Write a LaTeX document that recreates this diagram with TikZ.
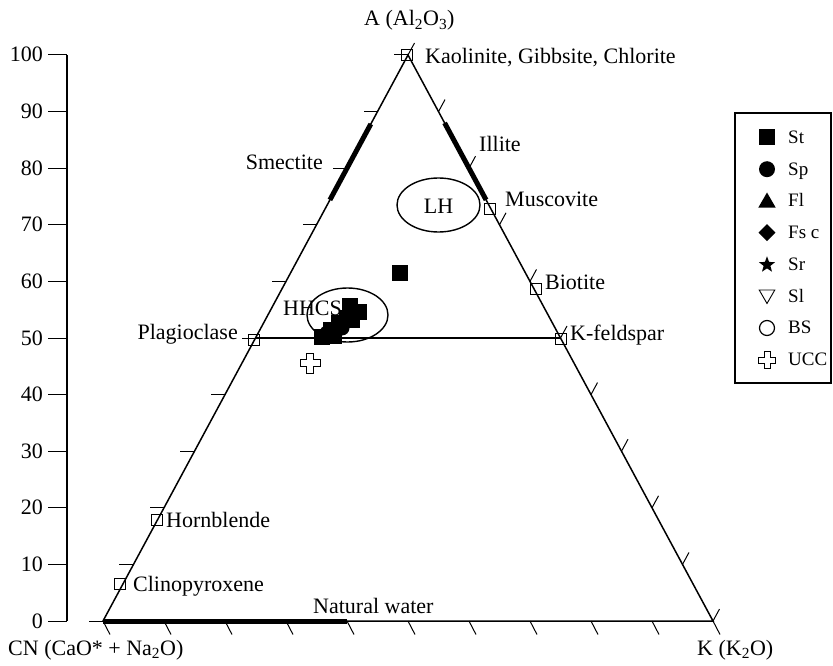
\documentclass[tikz,border=0pt]{standalone}
\usepackage{fontspec}
\setmainfont{Liberation Serif}
\usetikzlibrary{shapes.geometric,calc}
\begin{document}
\begin{tikzpicture}[x=1pt,y=-1pt,
  lbl/.style={font=\fontsize{22}{26}\selectfont, inner sep=0pt},
  leg/.style={font=\fontsize{19}{23}\selectfont, inner sep=0pt, anchor=base west},
  edge/.style={line width=1.5pt, black},
  tk/.style={line width=1pt},
  minsq/.style={draw, line width=0.9pt, minimum size=11pt, inner sep=0pt},
  fsq/.style={fill=black, minimum size=16pt, inner sep=0pt},
  fci/.style={circle, fill=black, minimum size=15pt, inner sep=0pt},
  thickseg/.style={line width=5pt, line cap=butt},
  ell/.style={draw, ellipse, line width=1.4pt, inner sep=0pt}]
\useasboundingbox (0,0) rectangle (833,666);
\coordinate (CN) at (103,621);
\coordinate (A) at (408,55);
\coordinate (K) at (713,621);
% y axis
\draw[edge] (67,55) coordinate (yt) -- (67,621) coordinate (yb);
\foreach \v in {0,10,...,100}{
  \pgfmathsetmacro{\yy}{621-5.66*\v}
  \draw[tk] (48,\yy) -- (67,\yy);
  \node[lbl, anchor=base east] (yl\v) at (43,\yy+7) {\v};
}
% triangle
\draw[edge] (CN) -- (A) -- (K) -- cycle;
% 50 line
\coordinate (p50) at ($(CN)!0.5!(A)$);
\coordinate (k50) at ($(K)!0.5!(A)$);
\draw[edge] (p50) -- (k50);
% ticks
\foreach \i in {0,...,10}{
  \draw[tk] ($(CN)!\i/10!(A)$) -- ++(-14,0);
  \draw[tk] ($(K)!\i/10!(A)$) -- ++(6.5,-12);
  \draw[tk] ($(CN)!\i/10!(K)$) -- ++(7,13.5);
}
% thick segments
\draw[thickseg] ($(CN)!0.744!(A)$) coordinate (sm1) -- ($(CN)!0.878!(A)$) coordinate (sm2);
\draw[thickseg] ($(A)!0.12!(K)$) coordinate (il1) -- ($(A)!0.256!(K)$) coordinate (il2);
\draw[thickseg] (CN) -- ($(CN)!0.4!(K)$) coordinate (nw);
% mineral squares
\node[minsq] (kao) at (407,55) {};
\node[minsq] (mus) at (490,209) {};
\node[minsq] (bio) at (536,289) {};
\node[minsq] (kfs) at (561,339) {};
\node[minsq] (pla) at (254,340) {};
\node[minsq] (hor) at (157,520) {};
\node[minsq] (cli) at (120,584) {};
% mineral labels
\node[lbl, anchor=base west] (tkao) at (425,64) {Kaolinite, Gibbsite, Chlorite};
\node[lbl, anchor=base west] (till) at (479,152) {Illite};
\node[lbl, anchor=base west] (tmus) at (505,207) {Muscovite};
\node[lbl, anchor=base west] (tbio) at (545,289) {Biotite};
\node[lbl, anchor=base west] (tkfs) at (570,340) {K-feldspar};
\node[lbl, anchor=base east] (tpla) at (238,339) {Plagioclase};
\node[lbl, anchor=base west] (thor) at (166,527) {Hornblende};
\node[lbl, anchor=base west] (tcli) at (133,591) {Clinopyroxene};
\node[lbl, anchor=base east] (tsme) at (323,170) {Smectite};
\node[lbl, anchor=base west] (tnw) at (313,613) {Natural water};
% apex labels
\node[lbl, anchor=base west] (tA) at (364,26) {A (Al\textsubscript{2}O\textsubscript{3})};
\node[lbl, anchor=base west] (tCN) at (8,655) {CN (CaO* + Na\textsubscript{2}O)};
\node[lbl, anchor=base west] (tK) at (697,655) {K (K\textsubscript{2}O)};
% ellipses
\node[ell, minimum width=83pt, minimum height=54pt] (lh) at (438.5,205) {};
\node[lbl, anchor=base] (tlh) at (438.5,213) {LH};
\node[ell, minimum width=81pt, minimum height=54pt] (hhcs) at (347.5,315) {};
\node[lbl, anchor=base west] (thh) at (283,315) {HHCS};
% data points
\node[fsq] (d1) at (400,273) {};
\node[fsq] (c1) at (350,306) {};
\node[fsq] (c2) at (359,312) {};
\node[fsq] (c3) at (347,318) {};
\node[fsq] (c4) at (339,323) {};
\node[fsq] (c5) at (331,330) {};
\node[fsq] (c6) at (322,337) {};
\node[fsq] (c7) at (334,336) {};
\node[fsq] (c8) at (352,320) {};
\node[fci] (c9) at (327,333) {};
\node[fci] (c10) at (342,328) {};
% UCC
\coordinate (ucc) at (310,363);
\draw[line width=0.9pt] (ucc) ++(-3.5,-10) -- ++(7,0) -- ++(0,6.5) -- ++(6.5,0) -- ++(0,7) -- ++(-6.5,0) -- ++(0,6.5) -- ++(-7,0) -- ++(0,-6.5) -- ++(-6.5,0) -- ++(0,-7) -- ++(6.5,0) -- cycle;
% legend
\draw[line width=1.8pt] (735,113) rectangle (831,383);
\node[fsq] (ls1) at (767,137.5) {};
\node[leg] (lt1) at (788,143.5) {St};
\node[fci, minimum size=16pt] (ls2) at (767,169.2) {};
\node[leg] (lt2) at (788,175.2) {Sp};
\node[fill=black, regular polygon, regular polygon sides=3, minimum size=20pt, inner sep=0pt] (ls3) at (767,202.5) {};
\node[leg] (lt3) at (788,206.9) {Fl};
\node[fill=black, diamond, minimum width=17pt, minimum height=17pt, inner sep=0pt] (ls4) at (767,232.6) {};
\node[leg] (lt4) at (788,238.6) {Fs c};
\node[fill=black, star, star points=5, star point ratio=2.4, minimum size=17pt, inner sep=0pt] (ls5) at (767,264.8) {};
\node[leg] (lt5) at (788,270.3) {Sr};
\node[draw, line width=0.9pt, regular polygon, regular polygon sides=3, shape border rotate=180, minimum size=18pt, inner sep=0pt] (ls6) at (767,294.5) {};
\node[leg] (lt6) at (788,302) {Sl};
\node[draw, circle, line width=1.2pt, minimum size=15pt, inner sep=0pt] (ls7) at (767,328) {};
\node[leg] (lt7) at (788,333.7) {BS};
\coordinate (lucc) at (767,360);
\draw[line width=0.9pt] (lucc) ++(-3,-8.5) -- ++(6,0) -- ++(0,5.5) -- ++(5.5,0) -- ++(0,6) -- ++(-5.5,0) -- ++(0,5.5) -- ++(-6,0) -- ++(0,-5.5) -- ++(-5.5,0) -- ++(0,-6) -- ++(5.5,0) -- cycle;
\node[leg] (lt8) at (788,365.4) {UCC};
\end{tikzpicture}
\end{document}
